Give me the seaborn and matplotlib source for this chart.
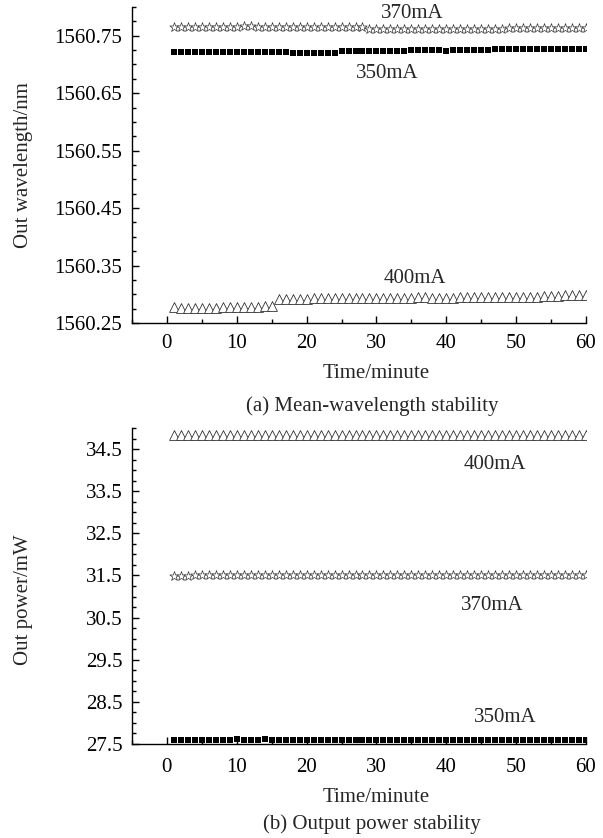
import matplotlib
matplotlib.use("Agg")
import matplotlib.pyplot as plt
import seaborn as sns
import pandas as pd
from matplotlib.ticker import MultipleLocator

# ---------------- data ----------------
minutes = list(range(1, 61))

wl_350 = [1560.721, 1560.722, 1560.721, 1560.722, 1560.721, 1560.721, 1560.721, 1560.721,
          1560.721, 1560.721, 1560.721, 1560.721, 1560.721, 1560.721, 1560.721, 1560.721,
          1560.721, 1560.720, 1560.720, 1560.720, 1560.720, 1560.720, 1560.720, 1560.720,
          1560.724, 1560.724, 1560.724, 1560.724, 1560.724, 1560.724, 1560.724, 1560.724,
          1560.724, 1560.724, 1560.725, 1560.725, 1560.725, 1560.725, 1560.725, 1560.724,
          1560.725, 1560.725, 1560.725, 1560.725, 1560.725, 1560.725, 1560.726, 1560.726,
          1560.726, 1560.726, 1560.726, 1560.726, 1560.726, 1560.726, 1560.726, 1560.727,
          1560.726, 1560.726, 1560.726, 1560.726]

wl_370 = [1560.765, 1560.765, 1560.765, 1560.765, 1560.765, 1560.765, 1560.765, 1560.765,
          1560.765, 1560.765, 1560.766, 1560.766, 1560.765, 1560.765, 1560.765, 1560.765,
          1560.765, 1560.765, 1560.765, 1560.765, 1560.765, 1560.765, 1560.765, 1560.765,
          1560.765, 1560.765, 1560.765, 1560.765, 1560.762, 1560.762, 1560.762, 1560.762,
          1560.762, 1560.762, 1560.762, 1560.762, 1560.762, 1560.762, 1560.762, 1560.762,
          1560.762, 1560.762, 1560.762, 1560.762, 1560.762, 1560.762, 1560.762, 1560.762,
          1560.763, 1560.763, 1560.763, 1560.763, 1560.763, 1560.763, 1560.763, 1560.764,
          1560.763, 1560.763, 1560.763, 1560.763]

wl_400 = [1560.278, 1560.276, 1560.276, 1560.276, 1560.276, 1560.276, 1560.276, 1560.277,
          1560.277, 1560.277, 1560.277, 1560.278, 1560.278, 1560.279, 1560.279, 1560.292,
          1560.292, 1560.292, 1560.292, 1560.292, 1560.294, 1560.294, 1560.294, 1560.294,
          1560.294, 1560.294, 1560.294, 1560.294, 1560.294, 1560.294, 1560.294, 1560.294,
          1560.294, 1560.294, 1560.294, 1560.296, 1560.296, 1560.294, 1560.294, 1560.294,
          1560.294, 1560.295, 1560.295, 1560.295, 1560.295, 1560.295, 1560.295, 1560.296,
          1560.296, 1560.296, 1560.296, 1560.296, 1560.296, 1560.297, 1560.297, 1560.297,
          1560.298, 1560.298, 1560.298, 1560.298]

pw_400 = [34.83, 34.83, 34.83, 34.83, 34.83, 34.83, 34.83, 34.83, 34.83, 34.83,
          34.83, 34.83, 34.83, 34.83, 34.83, 34.83, 34.83, 34.83, 34.83, 34.83,
          34.83, 34.83, 34.83, 34.83, 34.83, 34.83, 34.83, 34.83, 34.83, 34.83,
          34.83, 34.83, 34.83, 34.83, 34.83, 34.83, 34.83, 34.83, 34.83, 34.83,
          34.83, 34.83, 34.83, 34.83, 34.83, 34.83, 34.83, 34.83, 34.83, 34.83,
          34.83, 34.83, 34.83, 34.83, 34.83, 34.83, 34.83, 34.83, 34.83, 34.83]

pw_370 = [31.49, 31.49, 31.49, 31.50, 31.50, 31.50, 31.50, 31.50, 31.50, 31.50,
          31.50, 31.50, 31.50, 31.50, 31.50, 31.51, 31.51, 31.51, 31.51, 31.51,
          31.51, 31.51, 31.51, 31.51, 31.51, 31.51, 31.51, 31.51, 31.51, 31.51,
          31.51, 31.51, 31.51, 31.51, 31.51, 31.51, 31.51, 31.51, 31.51, 31.51,
          31.51, 31.51, 31.51, 31.51, 31.51, 31.51, 31.51, 31.51, 31.51, 31.51,
          31.51, 31.51, 31.51, 31.51, 31.51, 31.51, 31.51, 31.51, 31.51, 31.51]

pw_350 = [27.60, 27.60, 27.60, 27.60, 27.60, 27.60, 27.60, 27.60, 27.60, 27.61,
          27.60, 27.60, 27.60, 27.61, 27.60, 27.60, 27.60, 27.60, 27.60, 27.60,
          27.60, 27.60, 27.60, 27.60, 27.60, 27.60, 27.60, 27.60, 27.60, 27.60,
          27.60, 27.60, 27.60, 27.60, 27.60, 27.60, 27.60, 27.60, 27.60, 27.60,
          27.60, 27.60, 27.60, 27.60, 27.60, 27.60, 27.60, 27.60, 27.60, 27.60,
          27.60, 27.60, 27.60, 27.60, 27.60, 27.60, 27.60, 27.60, 27.60, 27.60]

x_ticks = [0, 10, 20, 30, 40, 50, 60]
wl_ticks = [1560.25, 1560.35, 1560.45, 1560.55, 1560.65, 1560.75]
pw_ticks = [27.5, 28.5, 29.5, 30.5, 31.5, 32.5, 33.5, 34.5]

# ---------------- style ----------------
sns.set_theme(style="ticks")
plt.rcParams["font.family"] = ["Liberation Serif", "DejaVu Serif"]
FS = 15

fig = plt.figure(figsize=(6.03, 8.38), dpi=100)
ax1 = fig.add_axes([0.2189, 0.6146, 0.7529, 0.3771])
ax2 = fig.add_axes([0.2189, 0.1122, 0.7529, 0.3771])

df_wl = pd.DataFrame({"t": minutes, "350": wl_350, "370": wl_370, "400": wl_400})
df_pw = pd.DataFrame({"t": minutes, "350": pw_350, "370": pw_370, "400": pw_400})


def draw(ax, df):
    sns.scatterplot(data=df, x="t", y="350", ax=ax, marker="s", s=22,
                    color="black", edgecolor="black", linewidth=0, zorder=3)
    sns.scatterplot(data=df, x="t", y="370", ax=ax, marker="*", s=50,
                    facecolor="white", edgecolor="#333333", linewidth=0.5, zorder=3)
    sns.scatterplot(data=df, x="t", y="400", ax=ax, marker="^", s=50,
                    facecolor="white", edgecolor="#333333", linewidth=0.6, zorder=3)


draw(ax1, df_wl)
draw(ax2, df_pw)

for ax in (ax1, ax2):
    sns.despine(ax=ax)
    ax.set_xlim(-5, 60)
    ax.set_xticks(x_ticks)
    ax.set_xticklabels([str(v) for v in x_ticks])
    ax.xaxis.set_minor_locator(MultipleLocator(5))
    ax.tick_params(which="major", direction="in", length=5, width=1.0,
                   labelsize=FS, colors="black")
    ax.tick_params(which="minor", direction="in", length=3, width=1.0, colors="black")
    ax.tick_params(axis="y", which="major", pad=7)
    for sp in ("left", "bottom"):
        ax.spines[sp].set_linewidth(1.0)
        ax.spines[sp].set_color("black")

ax1.tick_params(axis="x", which="major", pad=8)
ax2.tick_params(axis="x", which="major", pad=10)

ax1.set_ylim(1560.25, 1560.80)
ax1.set_yticks(wl_ticks)
ax1.set_yticklabels([f"{v:.2f}" for v in wl_ticks])
ax1.yaxis.set_minor_locator(MultipleLocator(0.025))

ax2.set_ylim(27.5, 35.0)
ax2.set_yticks(pw_ticks)
ax2.set_yticklabels([f"{v:.1f}" for v in pw_ticks])
ax2.yaxis.set_minor_locator(MultipleLocator(0.25))

ax1.set_xlabel("Time/minute", fontsize=FS)
ax1.set_ylabel("Out wavelength/nm", fontsize=FS)
ax2.set_xlabel("Time/minute", fontsize=FS)
ax2.set_ylabel("Out power/mW", fontsize=FS)
ax1.xaxis.set_label_coords(0.537, -0.130)
ax2.xaxis.set_label_coords(0.537, -0.138)
ax1.yaxis.set_label_coords(-0.218, 0.5)
ax2.yaxis.set_label_coords(-0.218, 0.456)

# annotations
ax1.text(35.1, 1560.789, "370mA", fontsize=FS, ha="center", va="center")
ax1.text(31.5, 1560.684, "350mA", fontsize=FS, ha="center", va="center")
ax1.text(35.5, 1560.327, "400mA", fontsize=FS, ha="center", va="center")
ax2.text(47.0, 34.13, "400mA", fontsize=FS, ha="center", va="center")
ax2.text(46.6, 30.78, "370mA", fontsize=FS, ha="center", va="center")
ax2.text(48.4, 28.12, "350mA", fontsize=FS, ha="center", va="center")

fig.text(372 / 603, 1 - 406 / 838, "(a) Mean-wavelength stability",
         fontsize=FS, ha="center", va="center")
fig.text(372 / 603, 1 - 824 / 838, "(b) Output power stability",
         fontsize=FS, ha="center", va="center")

fig.savefig("out.png", dpi=100)
